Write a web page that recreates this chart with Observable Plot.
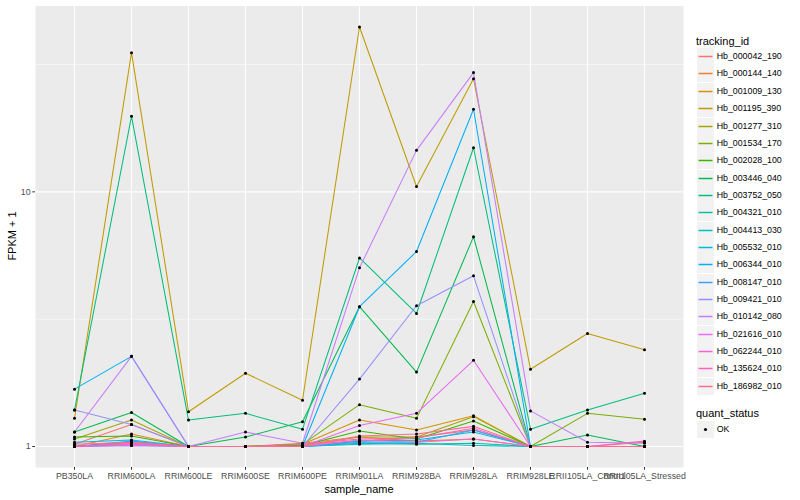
<!DOCTYPE html>
<html><head><meta charset="utf-8">
<script src="https://cdn.jsdelivr.net/npm/d3@7"></script>
<script src="https://cdn.jsdelivr.net/npm/@observablehq/plot@0.6"></script>
<style>
body{margin:0;background:#fff;font-family:"Liberation Sans",Arial,Helvetica,sans-serif;}
#wrap{position:relative;width:800px;height:500px;overflow:hidden;}
#chart{position:absolute;left:0;top:0;}
#legend{position:absolute;left:696px;top:0;width:104px;height:500px;}
.ltitle{position:absolute;left:0;font-size:11px;line-height:12px;color:#000;white-space:nowrap;}
.key{position:absolute;left:1px;width:17px;height:17px;}
.lab{position:absolute;left:20.7px;font-size:8.8px;white-space:nowrap;color:#000;}
.axt{position:absolute;font-size:11px;color:#000;white-space:nowrap;}
</style></head><body>
<div id="wrap"><div id="chart"></div><div id="legend"></div>
<div class="axt" id="xt">sample_name</div>
<div class="axt" id="yt">FPKM + 1</div>
</div>
<script>
const samples = ["PB350LA","RRIM600LA","RRIM600LE","RRIM600SE","RRIM600PE","RRIM901LA","RRIM928BA","RRIM928LA","RRIM928LE","RRII105LA_Control","RRII105LA_Stressed"];
const trackingIds = ["Hb_000042_190","Hb_000144_140","Hb_001009_130","Hb_001195_390","Hb_001277_310","Hb_001534_170","Hb_002028_100","Hb_003446_040","Hb_003752_050","Hb_004321_010","Hb_004413_030","Hb_005532_010","Hb_006344_010","Hb_008147_010","Hb_009421_010","Hb_010142_080","Hb_021616_010","Hb_062244_010","Hb_135624_010","Hb_186982_010"];
const palette = ["#F8766D","#EA8331","#D89000","#C09B00","#A3A500","#7CAE00","#39B600","#00BB4E","#00BF7D","#00C1A3","#00BFC4","#00BAE0","#00B0F6","#35A2FF","#9590FF","#C77CFF","#E76BF3","#FA62DB","#FF62BC","#FF6C91"];
// FPKM + 1, one row per tracking id, columns follow `samples`
const fpkmPlus1 = [
  [1.02, 1.22, 1, 1,    1.02, 1.05, 1.09, 1.16, 1,    1,    1.04],
  [1.00, 1.12, 1, 1,    1.03, 1.09, 1.05, 1.07, 1,    1,    1],
  [1.00, 1.04, 1, 1,    1.02, 1.27, 1.16, 1.32, 1,    1,    1],
  [1.29, 35.2, 1.37, 1.94, 1.52, 44.4, 10.5, 27.8, 2.01, 2.78, 2.40],
  [1.07, 1.27, 1, 1,    1.01, 1.09, 1.09, 1.31, 1,    1,    1],
  [1.00, 1.04, 1, 1,    1.02, 1.46, 1.29, 3.71, 1,    1.35, 1.28],
  [1.09, 1.10, 1, 1,    1.01, 1.15, 1.07, 1.26, 1,    1,    1],
  [1.14, 1.36, 1, 1.09, 1.25, 3.54, 1.96, 6.67, 1,    1.11, 1],
  [1.39, 19.8, 1.27, 1.35, 1.17, 5.5, 3.33, 14.9, 1.17, 1.39, 1.62],
  [1.00, 1.02, 1, 1,    1.00, 1.03, 1.02, 1.03, 1,    1,    1],
  [1.00, 1.01, 1, 1,    1.00, 1.02, 1.03, 1.01, 1,    1,    1],
  [1.04, 1.06, 1, 1,    1.00, 1.05, 1.06, 1.14, 1,    1,    1],
  [1.68, 2.26, 1, 1,    1.00, 3.54, 5.83, 21.1, 1,    1,    1],
  [1.00, 1.05, 1, 1,    1.00, 1.04, 1.04, 1.16, 1,    1,    1],
  [1.39, 1.22, 1, 1,    1.00, 1.84, 3.57, 4.68, 1,    1,    1],
  [1.14, 2.26, 1, 1.14, 1.03, 5.03, 14.55, 29.4, 1.38, 1.04, 1.03],
  [1.00, 1.02, 1, 1,    1.00, 1.21, 1.35, 2.18, 1,    1,    1],
  [1.00, 1.01, 1, 1,    1.00, 1.06, 1.04, 1.07, 1,    1,    1],
  [1.00, 1.03, 1, 1,    1.02, 1.07, 1.08, 1.18, 1,    1,    1.05],
  [1.02, 1.04, 1, 1,    1.00, 1.10, 1.12, 1.20, 1,    1,    1]
];
const yBreaks = [1, 10];
const yMinorBreaks = [3.1623, 31.623];
const quantStatus = ["OK"];

const data = trackingIds.flatMap((id, i) => samples.map((s, j) => ({id, sample: s, value: fpkmPlus1[i][j], status: "OK"})));

const ext = d3.extent(data, d => Math.log10(d.value));
const pad = (ext[1] - ext[0]) * 0.05;
const yDomain = [Math.pow(10, ext[0] - pad), Math.pow(10, ext[1] + pad)];

const chart = Plot.plot({
  width: 690, height: 500,
  marginLeft: 35, marginRight: 7, marginTop: 5.5, marginBottom: 33,
  style: {fontFamily: '"Liberation Sans", Arial, Helvetica, sans-serif', background: "transparent"},
  x: {type: "point", domain: samples, padding: 0.6, axis: null},
  y: {type: "log", domain: yDomain, axis: null},
  color: {domain: trackingIds, range: palette},
  marks: [
    Plot.frame({fill: "#EBEBEB", stroke: null}),
    Plot.ruleY(yMinorBreaks, {stroke: "white", strokeWidth: 0.55}),
    Plot.ruleY(yBreaks, {stroke: "white", strokeWidth: 1.1}),
    Plot.ruleX(samples, {stroke: "white", strokeWidth: 1.1}),
    Plot.line(data, {x: "sample", y: "value", z: "id", stroke: "id", strokeWidth: 1.05}),
    Plot.dot(data, {x: "sample", y: "value", fill: "black", r: 1.5}),
    Plot.axisX({tickSize: 2.75, tickPadding: 2.2, fontSize: 8.8, fill: "#4D4D4D", stroke: "#333333", label: null}),
    Plot.axisY({ticks: yBreaks, tickFormat: d => String(d), tickSize: 2.75, tickPadding: 2.2, fontSize: 8.8, fill: "#4D4D4D", stroke: "#333333", label: null})
  ]
});
document.getElementById("chart").appendChild(chart);

// axis titles
const xt = document.getElementById("xt");
xt.style.left = (359 - xt.offsetWidth / 2) + "px";
xt.style.top = (488.5 - xt.offsetHeight / 2) + "px";
const yt = document.getElementById("yt");
yt.style.left = (11 - yt.offsetWidth / 2) + "px";
yt.style.top = (236 - yt.offsetHeight / 2) + "px";
yt.style.transform = "rotate(-90deg)";

// legend
const leg = document.getElementById("legend");
const keyH = 17.35, firstTop = 48.1;
let html = `<div class="ltitle" style="top:${40.7 - 6}px">tracking_id</div>`;
trackingIds.forEach((id, i) => {
  const top = Math.round(firstTop + keyH * i);
  html += `<svg class="key" style="top:${top}px" width="17" height="17"><rect width="17" height="17" fill="#F2F2F2"/><line x1="1.5" x2="15.5" y1="8.5" y2="8.5" stroke="${palette[i]}" stroke-width="1.5"/></svg>`;
  html += `<div class="lab" style="top:${top}px;height:17px;line-height:17px">${id}</div>`;
});
html += `<div class="ltitle" style="top:${412.7 - 6}px">quant_status</div>`;
quantStatus.forEach((q, i) => {
  const top = Math.round(420.7 + keyH * i);
  html += `<svg class="key" style="top:${top}px" width="17" height="17"><rect width="17" height="17" fill="#F2F2F2"/><circle cx="8.5" cy="8.5" r="1.6" fill="#000"/></svg>`;
  html += `<div class="lab" style="top:${top}px;height:17px;line-height:17px">${q}</div>`;
});
leg.innerHTML = html;
</script>
</body></html>
